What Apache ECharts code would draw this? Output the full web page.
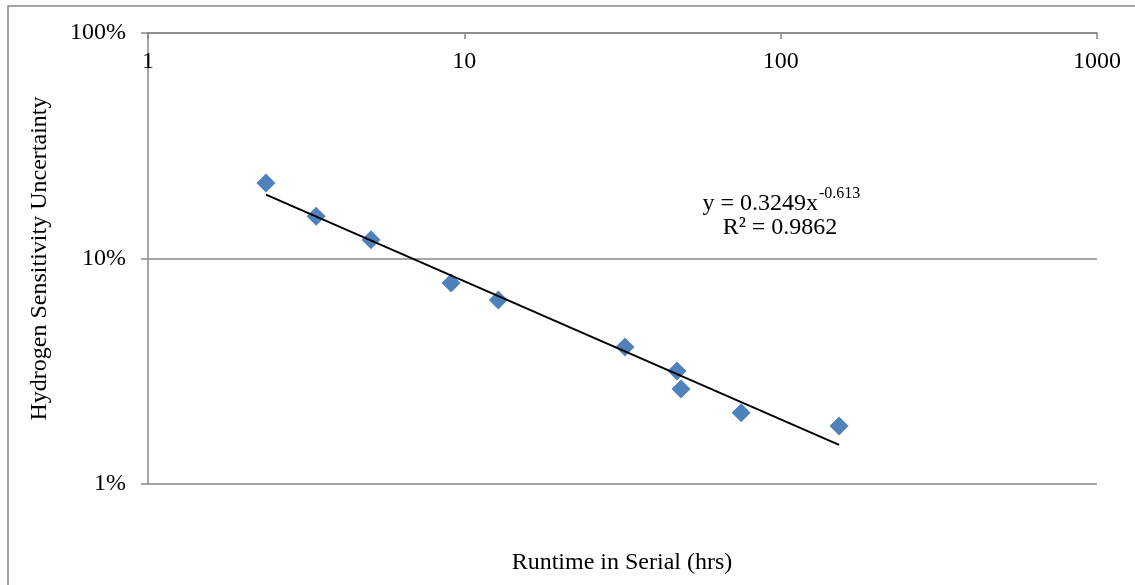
<!DOCTYPE html>
<html>
<head>
<meta charset="utf-8">
<script src="https://cdn.jsdelivr.net/npm/echarts@6/dist/echarts.min.js"></script>
<style>
html,body{margin:0;padding:0;background:#fff;}
#chart{width:1135px;height:585px;}
</style>
</head>
<body>
<div id="chart"></div>
<script>
// Data
const runtimeHrs = [2.36, 3.40, 5.07, 9.08, 12.8, 32.2, 47.0, 48.4, 75.0, 153];
const uncertainty = [0.216, 0.154, 0.121, 0.0778, 0.0655, 0.0405, 0.0317, 0.0264, 0.0207, 0.0181];
// Power trendline endpoints (y = 0.3249x^-0.613), straight on log-log axes
const trendX = [2.36, 153];
const trendY = [0.192, 0.0149];
const xTicks = [1, 10, 100, 1000];
const yTicks = [0.01, 0.1, 1];
const xTitle = 'Runtime in Serial (hrs)';
const yTitle = 'Hydrogen Sensitivity Uncertainty';
const eqMain = 'y = 0.3249x';
const eqExp = '-0.613';
const eqR2 = 'R² = 0.9862';

const FONT = '"Liberation Serif", "Times New Roman", serif';
const GRAY = '#878787';

const chart = echarts.init(document.getElementById('chart'), null, {renderer: 'canvas'});
const option = {
  backgroundColor: '#fff',
  animation: false,
  grid: {left: 148, top: 33, right: 38, bottom: 101, containLabel: false},
  xAxis: {
    type: 'log', logBase: 10,
    min: xTicks[0], max: xTicks[xTicks.length - 1],
    position: 'top',
    axisLine: {show: true, onZero: false, lineStyle: {color: GRAY, width: 1.5}},
    axisTick: {show: true, inside: true, length: 6, lineStyle: {color: GRAY, width: 1.5}},
    axisLabel: {inside: true, margin: 17, color: '#000', fontFamily: FONT, fontSize: 24,
      formatter: v => String(Math.round(v))},
    splitLine: {show: false},
    minorTick: {show: false}
  },
  yAxis: {
    type: 'log', logBase: 10,
    min: yTicks[0], max: yTicks[yTicks.length - 1],
    name: yTitle, nameLocation: 'middle', nameGap: 96,
    nameTextStyle: {color: '#000', fontFamily: FONT, fontSize: 24},
    axisLine: {show: true, onZero: false, lineStyle: {color: GRAY, width: 1.5}},
    axisTick: {show: true, inside: false, length: 7, lineStyle: {color: GRAY, width: 1.5}},
    axisLabel: {margin: 22, color: '#000', fontFamily: FONT, fontSize: 24,
      formatter: v => Math.round(v * 100) + '%'},
    splitLine: {show: true, lineStyle: {color: GRAY, width: 1.5}}
  },
  series: [
    {
      type: 'scatter',
      data: runtimeHrs.map((x, i) => [x, uncertainty[i]]),
      symbol: 'diamond', symbolSize: 19,
      itemStyle: {color: '#4F81BD', opacity: 1},
      z: 2
    },
    {
      type: 'line',
      data: trendX.map((x, i) => [x, trendY[i]]),
      showSymbol: false, symbol: 'none',
      lineStyle: {color: '#000', width: 2},
      z: 3
    }
  ],
  graphic: [
    {type: 'rect', shape: {x: 8, y: 6, width: 1140, height: 600},
     style: {fill: 'none', stroke: GRAY, lineWidth: 1.5}, silent: true},
    {type: 'text', x: 622, y: 563,
     style: {text: xTitle, fill: '#000', font: '24px ' + FONT, textAlign: 'center', textVerticalAlign: 'middle'}},
    {type: 'text', x: 818, y: 204,
     style: {text: eqMain, fill: '#000', font: '24px ' + FONT, textAlign: 'right', textVerticalAlign: 'middle'}},
    {type: 'text', x: 819, y: 194,
     style: {text: eqExp, fill: '#000', font: '16px ' + FONT, textAlign: 'left', textVerticalAlign: 'middle'}},
    {type: 'text', x: 780, y: 228,
     style: {text: eqR2, fill: '#000', font: '24px ' + FONT, textAlign: 'center', textVerticalAlign: 'middle'}}
  ]
};
chart.setOption(option);
</script>
</body>
</html>
